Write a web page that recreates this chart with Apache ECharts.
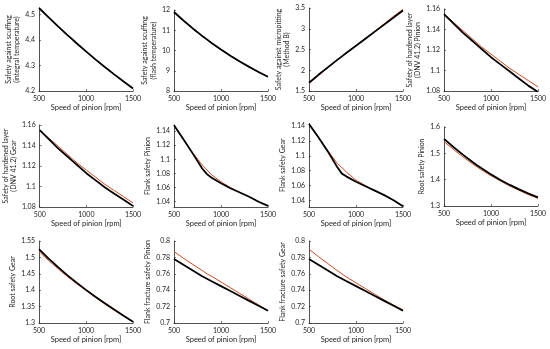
<!DOCTYPE html>
<html>
<head>
<meta charset="utf-8">
<script src="https://cdn.jsdelivr.net/npm/echarts@6/dist/echarts.min.js"></script>
<style>html,body{margin:0;padding:0;background:#fff}#c{width:550px;height:349px}</style>
</head>
<body>
<div id="c"></div>
<script>
// ---- data ----
const rpm = [500, 600, 700, 800, 850, 900, 1000, 1100, 1200, 1300, 1400, 1500];
const xTicks = [500, 1000, 1500];

const scuffIntBlack = [4.525, 4.489, 4.454, 4.420, 4.404, 4.387, 4.355, 4.324, 4.294, 4.265, 4.237, 4.210];
const scuffIntRed   = [4.524, 4.488, 4.453, 4.419, 4.402, 4.386, 4.354, 4.323, 4.293, 4.264, 4.236, 4.209];
const scuffIntTicks = [4.2, 4.3, 4.4, 4.5];

const scuffFlashBlack = [11.90, 11.48, 11.09, 10.72, 10.55, 10.37, 10.05, 9.74, 9.46, 9.19, 8.94, 8.70];
const scuffFlashRed   = [11.89, 11.47, 11.07, 10.70, 10.53, 10.35, 10.03, 9.72, 9.44, 9.17, 8.92, 8.69];
const scuffFlashTicks = [8, 9, 10, 11, 12];

const micropitBlack = [1.70, 1.89, 2.07, 2.25, 2.335, 2.42, 2.59, 2.76, 2.93, 3.10, 3.27, 3.44];
const micropitRed   = [1.68, 1.87, 2.06, 2.24, 2.33, 2.42, 2.59, 2.77, 2.94, 3.12, 3.30, 3.47];
const micropitTicks = [1.5, 2, 2.5, 3, 3.5];

const layerPinionBlack = [1.155, 1.146, 1.137, 1.129, 1.125, 1.121, 1.113, 1.106, 1.099, 1.092, 1.085, 1.079];
const layerPinionRed   = [1.155, 1.147, 1.139, 1.131, 1.127, 1.123, 1.116, 1.109, 1.102, 1.096, 1.090, 1.084];
const layerTicks = [1.08, 1.1, 1.12, 1.14, 1.16];

const layerGearBlack = [1.155, 1.146, 1.137, 1.129, 1.125, 1.121, 1.113, 1.106, 1.099, 1.093, 1.087, 1.081];
const layerGearRed   = [1.155, 1.147, 1.139, 1.131, 1.127, 1.123, 1.116, 1.109, 1.102, 1.096, 1.090, 1.084];

const flankPinionBlack = [1.148, 1.1285, 1.108, 1.087, 1.079, 1.074, 1.066, 1.059, 1.053, 1.047, 1.040, 1.034];
const flankPinionRed   = [1.148, 1.1285, 1.109, 1.092, 1.085, 1.078, 1.068, 1.060, 1.053, 1.047, 1.040, 1.034];
const flankTicks = [1.04, 1.06, 1.08, 1.1, 1.12, 1.14];

const flankGearBlack = [1.143, 1.125, 1.106, 1.085, 1.076, 1.072, 1.065, 1.059, 1.053, 1.047, 1.040, 1.032];
const flankGearRed   = [1.143, 1.125, 1.107, 1.090, 1.084, 1.078, 1.067, 1.060, 1.053, 1.047, 1.040, 1.032];

const rootPinionBlack = [1.555, 1.524, 1.495, 1.468, 1.455, 1.443, 1.420, 1.399, 1.380, 1.363, 1.347, 1.333];
const rootPinionRed   = [1.545, 1.515, 1.487, 1.461, 1.449, 1.437, 1.415, 1.395, 1.376, 1.359, 1.343, 1.329];
const rootPinionTicks = [1.3, 1.4, 1.5, 1.6];

const rootGearBlack = [1.525, 1.497, 1.471, 1.446, 1.4345, 1.423, 1.401, 1.380, 1.360, 1.341, 1.322, 1.304];
const rootGearRed   = [1.518, 1.491, 1.466, 1.442, 1.431, 1.420, 1.399, 1.378, 1.358, 1.339, 1.321, 1.303];
const rootGearTicks = [1.3, 1.35, 1.4, 1.45, 1.5, 1.55];

const fracPinionBlack = [0.778, 0.771, 0.764, 0.757, 0.754, 0.751, 0.745, 0.739, 0.733, 0.727, 0.721, 0.715];
const fracPinionRed   = [0.787, 0.779, 0.7715, 0.764, 0.760, 0.757, 0.750, 0.743, 0.736, 0.729, 0.722, 0.715];
const fracTicks = [0.7, 0.72, 0.74, 0.76, 0.78, 0.8];

const fracGearBlack = [0.778, 0.771, 0.764, 0.757, 0.754, 0.751, 0.745, 0.739, 0.733, 0.727, 0.721, 0.715];
const fracGearRed   = [0.790, 0.781, 0.7725, 0.764, 0.760, 0.756, 0.749, 0.742, 0.735, 0.728, 0.722, 0.716];

const xTitle = 'Speed of pinion [rpm]';
const yTitles = [
  'Safety against scuffing\n(integral temperature)',
  'Safety against scuffing\n(flash temperature)',
  'Safety against micropitting\n(Method B)',
  'Safety of hardened layer\n(DNV 41.2) Pinion',
  'Safety of hardened layer\n(DNV 41.2) Gear',
  'Flank safety Pinion',
  'Flank safety Gear',
  'Root safety Pinion',
  'Root safety Gear',
  'Flank fracture safety Pinion',
  'Flank fracture safety Gear'
];

const panels = [
  {black: scuffIntBlack, red: scuffIntRed, ticks: scuffIntTicks, min: 4.2, max: 4.525},
  {black: scuffFlashBlack, red: scuffFlashRed, ticks: scuffFlashTicks, min: 8, max: 12},
  {black: micropitBlack, red: micropitRed, ticks: micropitTicks, min: 1.5, max: 3.5},
  {black: layerPinionBlack, red: layerPinionRed, ticks: layerTicks, min: 1.08, max: 1.16},
  {black: layerGearBlack, red: layerGearRed, ticks: layerTicks, min: 1.08, max: 1.16},
  {black: flankPinionBlack, red: flankPinionRed, ticks: flankTicks, min: 1.0325, max: 1.1485},
  {black: flankGearBlack, red: flankGearRed, ticks: flankTicks, min: 1.031, max: 1.1436},
  {black: rootPinionBlack, red: rootPinionRed, ticks: rootPinionTicks, min: 1.3, max: 1.6},
  {black: rootGearBlack, red: rootGearRed, ticks: rootGearTicks, min: 1.3, max: 1.55},
  {black: fracPinionBlack, red: fracPinionRed, ticks: fracTicks, min: 0.7, max: 0.8},
  {black: fracGearBlack, red: fracGearRed, ticks: fracTicks, min: 0.7, max: 0.8}
];

// ---- layout (pixels) ----
const colLeft = [39, 174, 309, 444];
const plotW = 94;
const boxes = [
  [0, 8, 91], [1, 10, 91], [2, 8, 91], [3, 9, 91],
  [0, 125, 207], [1, 125, 207], [2, 123.5, 207], [3, 127, 206],
  [0, 241, 323], [1, 241, 323], [2, 241, 323]
];

const FONT = 'Lato';
const TXT = '#1f1f1f';
const grids = [], xAxes = [], yAxes = [], series = [];
panels.forEach((p, i) => {
  const b = boxes[i];
  grids.push({left: colLeft[b[0]], top: b[1], width: plotW, height: b[2] - b[1], containLabel: false});
  xAxes.push({
    type: 'value', gridIndex: i, min: 500, max: 1500, interval: 500,
    name: xTitle, nameLocation: 'middle', nameGap: 13,
    nameTextStyle: {fontFamily: FONT, fontSize: 7.5, color: TXT},
    axisLine: {lineStyle: {color: '#262626', width: 0.8}},
    axisTick: {inside: true, length: 2, lineStyle: {color: '#262626', width: 0.6}},
    axisLabel: {fontFamily: FONT, fontSize: 7, color: TXT, margin: 4, customValues: xTicks,
      formatter: v => String(v)},
    splitLine: {show: false}
  });
  const twoLine = yTitles[i].indexOf('\n') >= 0;
  yAxes.push({
    type: 'value', gridIndex: i, min: p.min, max: p.max,
    name: yTitles[i], nameLocation: 'middle', nameGap: twoLine ? 13 : 17,
    nameTextStyle: {fontFamily: FONT, fontSize: 7, color: TXT, lineHeight: 8.5},
    axisLine: {show: true, lineStyle: {color: '#262626', width: 0.8}},
    axisTick: {show: true, inside: true, length: 2, customValues: p.ticks, lineStyle: {color: '#262626', width: 0.6}},
    axisLabel: {fontFamily: FONT, fontSize: 7, color: TXT, margin: 4, customValues: p.ticks,
      formatter: v => String(v)},
    splitLine: {show: false}
  });
  series.push({
    type: 'line', xAxisIndex: i, yAxisIndex: i, showSymbol: false, symbol: 'none',
    data: rpm.map((r, k) => [r, p.red[k]]),
    lineStyle: {color: '#cc4a22', width: 1}, z: 2, animation: false
  });
  series.push({
    type: 'line', xAxisIndex: i, yAxisIndex: i, showSymbol: false, symbol: 'none',
    data: rpm.map((r, k) => [r, p.black[k]]),
    lineStyle: {color: '#000000', width: 1.8}, z: 3, animation: false
  });
});

const chart = echarts.init(document.getElementById('c'), null, {renderer: 'canvas'});
chart.setOption({
  animation: false,
  backgroundColor: '#ffffff',
  grid: grids, xAxis: xAxes, yAxis: yAxes, series: series
});
</script>
</body>
</html>
